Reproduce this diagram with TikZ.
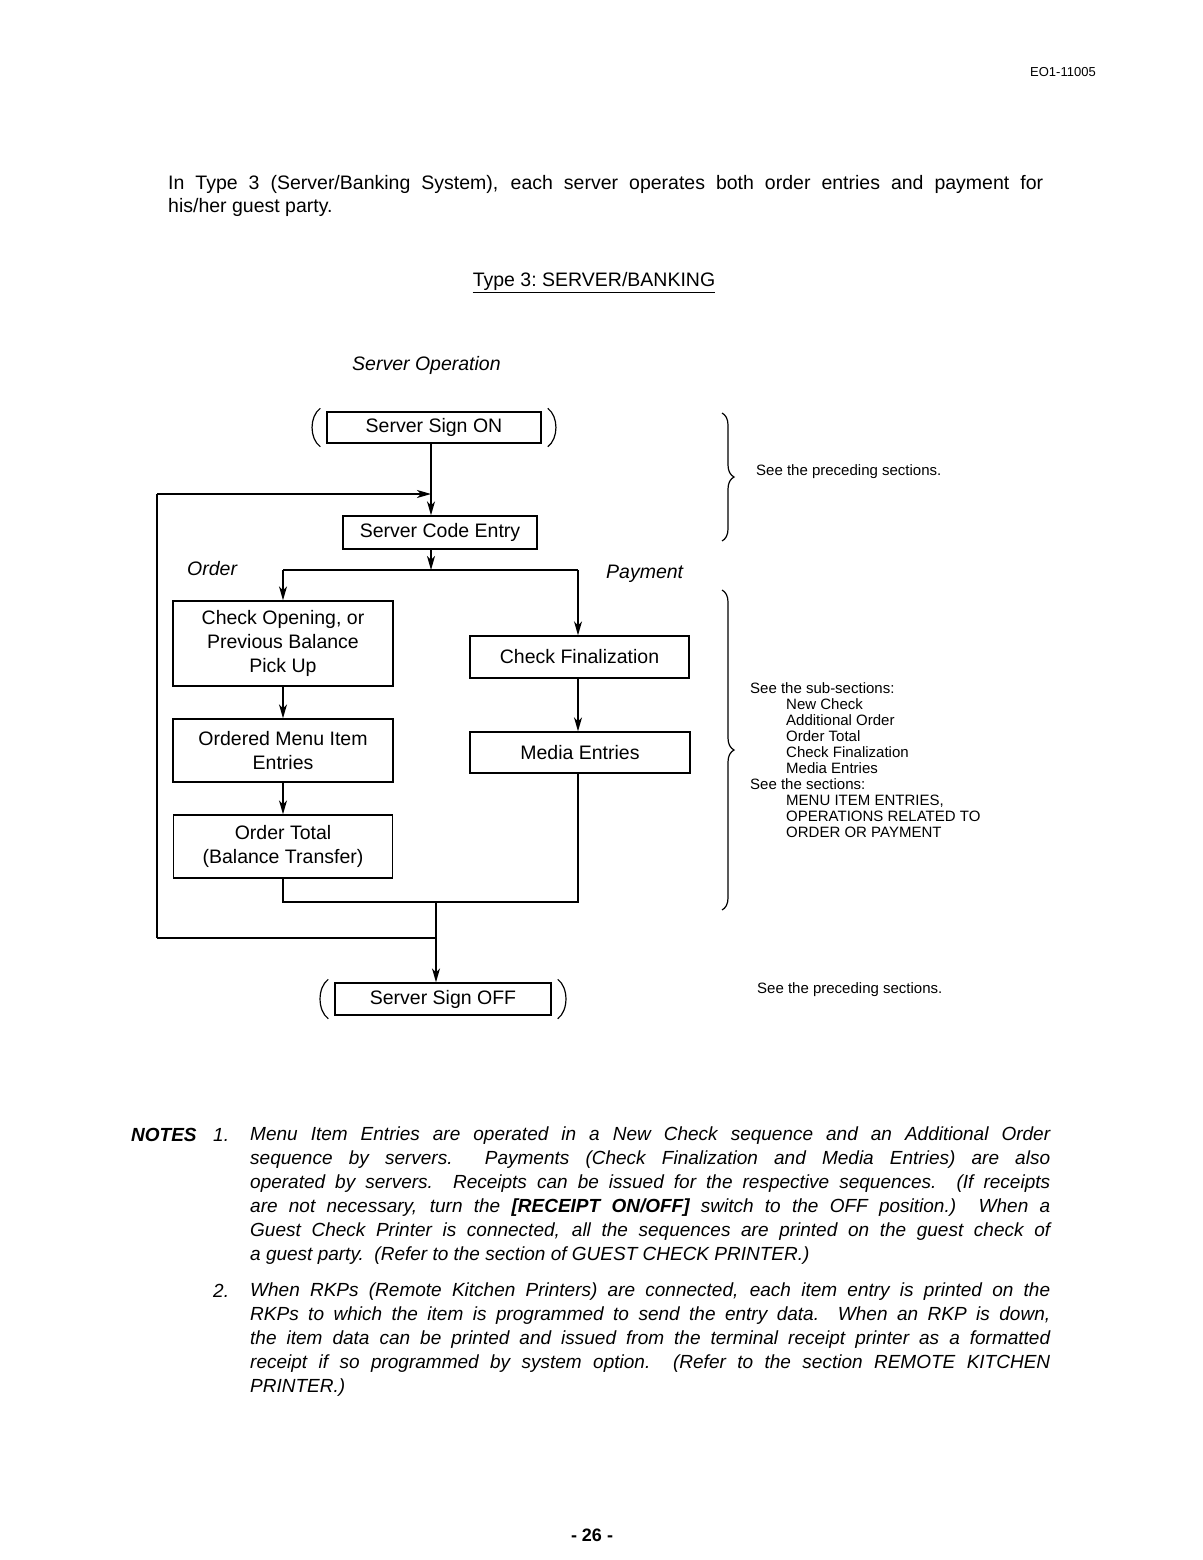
\documentclass[tikz,border=0pt]{standalone}
\usepackage{fontspec}
\setmainfont{Liberation Sans}
\usetikzlibrary{arrows.meta,decorations.pathreplacing}
\newcommand\drawparens[1]{%
  \draw[paren] ([shift={(-6,-3)}]#1.north west) .. controls ([shift={(-17,5)}]#1.north west) and ([shift={(-17,-5)}]#1.south west) .. ([shift={(-6,3)}]#1.south west);
  \draw[paren] ([shift={(6,-3)}]#1.north east) .. controls ([shift={(17,5)}]#1.north east) and ([shift={(17,-5)}]#1.south east) .. ([shift={(6,3)}]#1.south east);}
\begin{document}
\begin{tikzpicture}[x=1pt,y=-1pt,
  box/.style={draw, line width=1.4pt, inner sep=0pt, align=center, font=\fontsize{19.5}{24}\selectfont},
  ln/.style={line width=1.4pt},
  arr/.style={ln, -{Stealth[length=14pt,width=8pt,inset=4pt]}},
  paren/.style={line width=1.2pt},
  brc/.style={line width=1.2pt, decorate, decoration={brace, amplitude=12pt}},
  txt/.style={inner sep=0pt, anchor=base west},
  small/.style={font=\fontsize{15}{16}\selectfont},
  body/.style={font=\fontsize{19.5}{23}\selectfont},
  notetxt/.style={inner sep=0pt, anchor=north west, text width=800pt, align=justify, font=\itshape\fontsize{19}{24}\selectfont}]
\useasboundingbox (0,0) rectangle (1202,1560);
\fill[white] (0,0) rectangle (1202,1560);

% header and intro
\node[txt, font=\fontsize{13}{15}\selectfont] (hdr) at (1030,77) {EO1-11005};
\node[inner sep=0pt, anchor=north west, text width=875pt, align=justify, body] (intro) at (168,175)
 {In Type 3 (Server/Banking System), each server operates both order entries and payment for\linebreak his/her guest party.};
\node[inner sep=0pt, anchor=base, body] (title) at (594,286) {\frenchspacing Type 3: SERVER/BANKING};
\draw[line width=1.2pt] ([shift={(0,2)}]title.south west) -- ([shift={(0,2)}]title.south east);
\node[txt, font=\itshape\fontsize{19.5}{23}\selectfont] (servop) at (352,370) {Server Operation};

% boxes
\node[box, minimum width=214pt, minimum height=31pt] (on) at (434,427.5) {Server Sign ON};
\node[box, minimum width=194pt, minimum height=33pt] (sce) at (440,532.5) {Server Code Entry};
\node[box, minimum width=220pt, minimum height=85pt] (cop) at (283,643.5) {Check Opening, or\\Previous Balance\\Pick Up};
\node[box, minimum width=220pt, minimum height=63pt] (omi) at (283,750.5) {Ordered Menu Item\\Entries};
\node[box, minimum width=219pt, minimum height=63pt] (ot) at (283,846.5) {Order Total\\(Balance Transfer)};
\node[box, minimum width=219pt, minimum height=42pt] (cf) at (579.5,657) {Check Finalization};
\node[box, minimum width=220pt, minimum height=41pt] (me) at (580,752.5) {Media Entries};
\node[box, minimum width=216pt, minimum height=32pt] (off) at (443,999) {Server Sign OFF};
\drawparens{on}
\drawparens{off}

% labels
\node[txt, font=\itshape\fontsize{19.5}{23}\selectfont] (order) at (187,575) {Order};
\node[txt, font=\itshape\fontsize{19.5}{23}\selectfont] (pay) at (606,578) {Payment};

% connectors
\coordinate (j1) at (431,494);
\coordinate (lt) at (157,494);
\coordinate (lb) at (157,938);
\coordinate (sp) at (431,570);
\coordinate (sl) at (283,570);
\coordinate (sr) at (578,570);
\coordinate (ml) at (283,902);
\coordinate (mr) at (578,902);
\coordinate (mm) at (436,902);
\coordinate (mb) at (436,938);
\draw[arr] (on.south -| j1) -- (sce.north -| j1);
\draw[ln] (lb) -- (lt);
\draw[arr] (lt) -- (j1);
\draw[arr] (sce.south -| sp) -- (sp);
\draw[ln] (sl) -- (sr);
\draw[arr] (sl) -- (cop.north);
\draw[arr] (sr) -- (cf.north -| sr);
\draw[arr] (cop) -- (omi);
\draw[arr] (omi) -- (ot);
\draw[arr] (cf.south -| sr) -- (me.north -| sr);
\draw[ln] (ot.south) -- (ml) -- (mr) -- (me.south -| mr);
\draw[ln] (lb) -- (mb);
\draw[arr] (mm) -- (off.north -| mm);

% braces
\coordinate (b1t) at (722,413);
\coordinate (b1b) at (722,541);
\coordinate (b2t) at (722,590);
\coordinate (b2b) at (722,910);
\draw[brc] (b1t) -- (b1b);
\draw[brc] (b2t) -- (b2b);
\node[txt, small] (see1) at (756,475) {See the preceding sections.};
\node[inner sep=0pt, anchor=north west, align=left, small] (sub) at (750,682)
 {See the sub-sections:\\
  \hspace*{36pt}New Check\\
  \hspace*{36pt}Additional Order\\
  \hspace*{36pt}Order Total\\
  \hspace*{36pt}Check Finalization\\
  \hspace*{36pt}Media Entries\\
  See the sections:\\
  \hspace*{36pt}MENU ITEM ENTRIES,\\
  \hspace*{36pt}OPERATIONS RELATED TO\\
  \hspace*{36pt}ORDER OR PAYMENT};
\node[txt, small] (see2) at (757,993) {See the preceding sections.};

% notes
\node[txt, font=\bfseries\itshape\fontsize{19}{24}\selectfont] (notes) at (131,1141) {NOTES};
\node[txt, font=\itshape\fontsize{19}{24}\selectfont] (n1num) at (213,1141) {1.};
\node[notetxt] (n1) at (250,1127)
 {Menu Item Entries are operated in a New Check sequence and an Additional Order\linebreak
  sequence by servers.\ \ Payments (Check Finalization and Media Entries) are also\linebreak
  operated by servers.\ \ Receipts can be issued for the respective sequences.\ \ (If receipts\linebreak
  are not necessary, turn the {\bfseries [RECEIPT ON/OFF]} switch to the OFF position.)\ \ When a\linebreak
  Guest Check Printer is connected, all the sequences are printed on the guest check of\linebreak
  a guest party.\ \ (Refer to the section of GUEST CHECK PRINTER.)};
\node[txt, font=\itshape\fontsize{19}{24}\selectfont] (n2num) at (213,1297) {2.};
\node[notetxt] (n2) at (250,1283)
 {When RKPs (Remote Kitchen Printers) are connected, each item entry is printed on the\linebreak
  RKPs to which the item is programmed to send the entry data.\ \ When an RKP is down,\linebreak
  the item data can be printed and issued from the terminal receipt printer as a formatted\linebreak
  receipt if so programmed by system option.\ \ (Refer to the section REMOTE KITCHEN\linebreak
  PRINTER.)};

\node[inner sep=0pt, anchor=base, font=\bfseries\fontsize{18}{20}\selectfont] (page) at (592,1541) {- 26 -};
\end{tikzpicture}
\end{document}
